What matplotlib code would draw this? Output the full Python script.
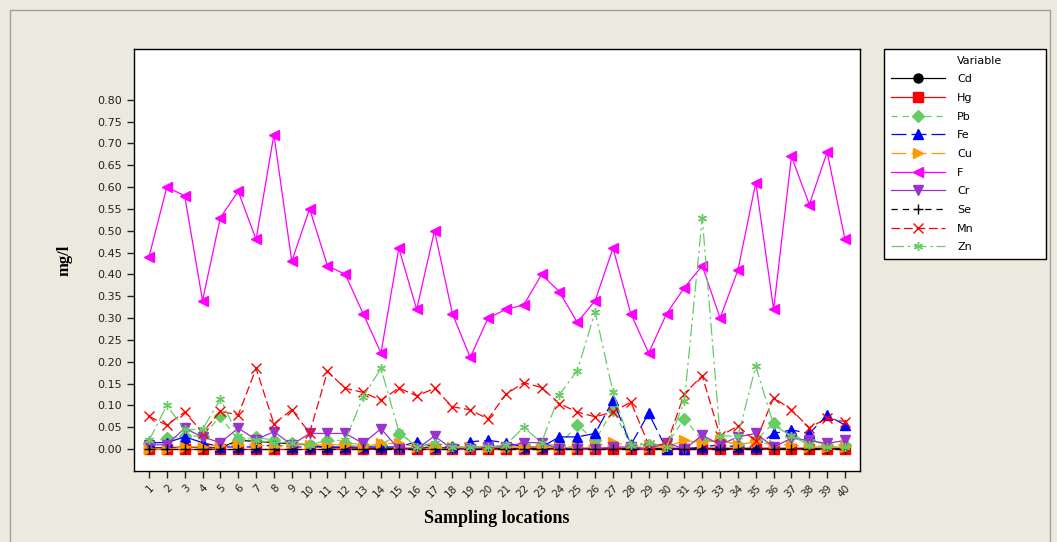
import numpy as np
import matplotlib
matplotlib.use("Agg")
from matplotlib import pyplot as plt
from matplotlib.lines import Line2D
from matplotlib.patches import Rectangle

# --- data (mg/l) ---
locations = list(range(1, 41))

Cd = [0.003, 0.003, 0.005, 0.003, 0.003, 0.020, 0.018, 0.015, 0.012, 0.010,
      0.003, 0.003, 0.002, 0.002, 0.002, 0.002, 0.004, 0.002, 0.002, 0.002,
      0.002, 0.002, 0.002, 0.002, 0.002, 0.002, 0.002, 0.002, 0.002, 0.002,
      0.002, 0.002, 0.002, 0.002, 0.002, 0.002, 0.002, 0.002, 0.002, 0.002]
Hg = [0.0, 0.0, 0.0, 0.0, 0.0, 0.0, 0.0, 0.0, 0.0, 0.0,
      0.0, 0.0, 0.0, 0.0, 0.0, 0.0, 0.0, 0.0, 0.0, 0.0,
      0.0, 0.0, 0.0, 0.0, 0.0, 0.0, 0.0, 0.0, 0.0, 0.0,
      0.0, 0.0, 0.0, 0.0, 0.0, 0.0, 0.0, 0.0, 0.0, 0.0]
Pb = [0.015, 0.025, 0.030, 0.030, 0.075, 0.020, 0.028, 0.020, 0.015, 0.010,
      0.020, 0.015, 0.010, 0.010, 0.035, 0.010, 0.005, 0.005, 0.005, 0.005,
      0.005, 0.010, 0.010, 0.010, 0.055, 0.020, 0.090, 0.010, 0.010, 0.010,
      0.070, 0.020, 0.020, 0.010, 0.020, 0.060, 0.030, 0.020, 0.010, 0.010]
Fe = [0.015, 0.015, 0.028, 0.015, 0.005, 0.005, 0.005, 0.010, 0.005, 0.005,
      0.005, 0.005, 0.005, 0.005, 0.005, 0.017, 0.005, 0.005, 0.017, 0.020,
      0.015, 0.005, 0.005, 0.028, 0.028, 0.036, 0.112, 0.010, 0.082, 0.000,
      0.000, 0.005, 0.010, 0.005, 0.005, 0.036, 0.044, 0.036, 0.078, 0.055]
Cu = [0.000, 0.000, 0.005, 0.005, 0.010, 0.010, 0.010, 0.005, 0.010, 0.010,
      0.010, 0.010, 0.005, 0.013, 0.013, 0.005, 0.005, 0.005, 0.005, 0.005,
      0.005, 0.005, 0.005, 0.005, 0.005, 0.008, 0.017, 0.005, 0.005, 0.005,
      0.020, 0.015, 0.020, 0.010, 0.017, 0.010, 0.010, 0.005, 0.005, 0.005]
F = [0.44, 0.60, 0.58, 0.34, 0.53, 0.59, 0.48, 0.72, 0.43, 0.55,
     0.42, 0.40, 0.31, 0.22, 0.46, 0.32, 0.50, 0.31, 0.21, 0.30,
     0.32, 0.33, 0.40, 0.36, 0.29, 0.34, 0.46, 0.31, 0.22, 0.31,
     0.37, 0.42, 0.30, 0.41, 0.61, 0.32, 0.67, 0.56, 0.68, 0.48]
Cr = [0.010, 0.010, 0.048, 0.028, 0.015, 0.048, 0.022, 0.040, 0.010, 0.036,
      0.036, 0.036, 0.013, 0.047, 0.000, 0.000, 0.030, 0.000, 0.000, 0.005,
      0.005, 0.015, 0.015, 0.000, 0.000, 0.000, 0.005, 0.005, 0.000, 0.015,
      0.000, 0.032, 0.010, 0.028, 0.036, 0.005, 0.025, 0.020, 0.013, 0.020]
Se = [0.0, 0.0, 0.0, 0.0, 0.0, 0.0, 0.0, 0.0, 0.0, 0.0,
      0.0, 0.0, 0.0, 0.0, 0.0, 0.0, 0.0, 0.0, 0.0, 0.0,
      0.0, 0.0, 0.0, 0.0, 0.0, 0.0, 0.0, 0.0, 0.0, 0.0,
      0.0, 0.0, 0.0, 0.0, 0.0, 0.0, 0.0, 0.0, 0.0, 0.0]
Mn = [0.075, 0.055, 0.085, 0.038, 0.087, 0.078, 0.185, 0.058, 0.090, 0.037,
      0.178, 0.139, 0.130, 0.112, 0.140, 0.122, 0.139, 0.097, 0.090, 0.069,
      0.126, 0.152, 0.141, 0.104, 0.085, 0.074, 0.085, 0.108, 0.010, 0.010,
      0.127, 0.168, 0.030, 0.053, 0.018, 0.118, 0.090, 0.049, 0.071, 0.063]
Zn = [0.020, 0.100, 0.045, 0.045, 0.115, 0.030, 0.020, 0.015, 0.015, 0.010,
      0.020, 0.020, 0.120, 0.185, 0.040, 0.005, 0.015, 0.005, 0.005, 0.005,
      0.010, 0.050, 0.015, 0.125, 0.180, 0.315, 0.130, 0.010, 0.015, 0.005,
      0.110, 0.530, 0.030, 0.030, 0.190, 0.055, 0.030, 0.010, 0.005, 0.005]

# --- styles per variable ---
serien = [
    ("Cd", Cd, "black",   "o", "-"),
    ("Hg", Hg, "#FF0000", "s", "-"),
    ("Pb", Pb, "#66CC66", "D", (0, (5, 4))),
    ("Fe", Fe, "#0000FF", "^", (0, (12, 4))),
    ("Cu", Cu, "#FF9900", ">", (0, (12, 4))),
    ("F",  F,  "#FF00FF", "<", "-"),
    ("Cr", Cr, "#9933CC", "v", "-"),
    ("Se", Se, "black",   "+", (0, (5, 4))),
    ("Mn", Mn, "#FF0000", "x", (0, (7, 3))),
    ("Zn", Zn, "#66CC66", (6, 2, 0), (0, (10, 3, 2, 3))),
]

bg = "#ECE9DF"
fig = plt.figure(figsize=(10.57, 5.42), dpi=100, facecolor=bg)
ax = fig.add_axes([134/1057, 1-471/542, (860-134)/1057, (471-49)/542])
ax.set_facecolor("white")

handles = [Line2D([], [], linestyle="none", marker=None)]
labels = ["Variable"]
for name, werte, farbe, marker, ls in serien:
    ms = 6.5 if marker not in ("+", "x") else 7
    ln, = ax.plot(locations, werte, color=farbe, marker=marker, linestyle=ls,
                  linewidth=0.9, markersize=ms, markeredgewidth=1.0,
                  markeredgecolor=farbe, markerfacecolor=farbe)
    handles.append(ln)
    labels.append(name)

ax.set_xlim(0.16, 40.84)
ax.set_ylim(-0.05, 0.916)
ax.set_yticks(np.arange(0, 0.801, 0.05))
ax.set_yticklabels(["%.2f" % t for t in np.arange(0, 0.801, 0.05)],
                   fontsize=8, color="#222222")
ax.set_xticks(locations)
ax.set_xticklabels([str(i) for i in locations], fontsize=7.5, rotation=45,
                   ha="right", rotation_mode="anchor", color="#222222")
ax.tick_params(direction="out", length=5, width=1, colors="#222222")
for s in ax.spines.values():
    s.set_linewidth(1)
    s.set_color("black")

ax.set_ylabel("mg/l", fontsize=12, fontweight="bold", family="Liberation Serif",
              labelpad=18)
ax.set_xlabel("Sampling locations", fontsize=13, fontweight="bold",
              family="Liberation Serif", labelpad=8)

leg = fig.legend(handles, labels, loc="upper left",
                 bbox_to_anchor=(884/1057, 1-270/542, 162/1057, 221/542),
                 mode="expand", fontsize=8, frameon=True, fancybox=False,
                 framealpha=1, facecolor="white",
                 handlelength=4.9, handletextpad=1.1, labelspacing=0.78,
                 borderpad=0.6, borderaxespad=0)
leg.get_frame().set_edgecolor("black")
leg.get_frame().set_linewidth(1)

# outer frame
fig.patches.append(Rectangle((10/1057, -0.01), 1040/1057, 1-10/542+0.01,
                             transform=fig.transFigure, fill=False,
                             edgecolor="#A0A0A0", linewidth=1))

plt.savefig("out.png", dpi=100, facecolor=bg)
